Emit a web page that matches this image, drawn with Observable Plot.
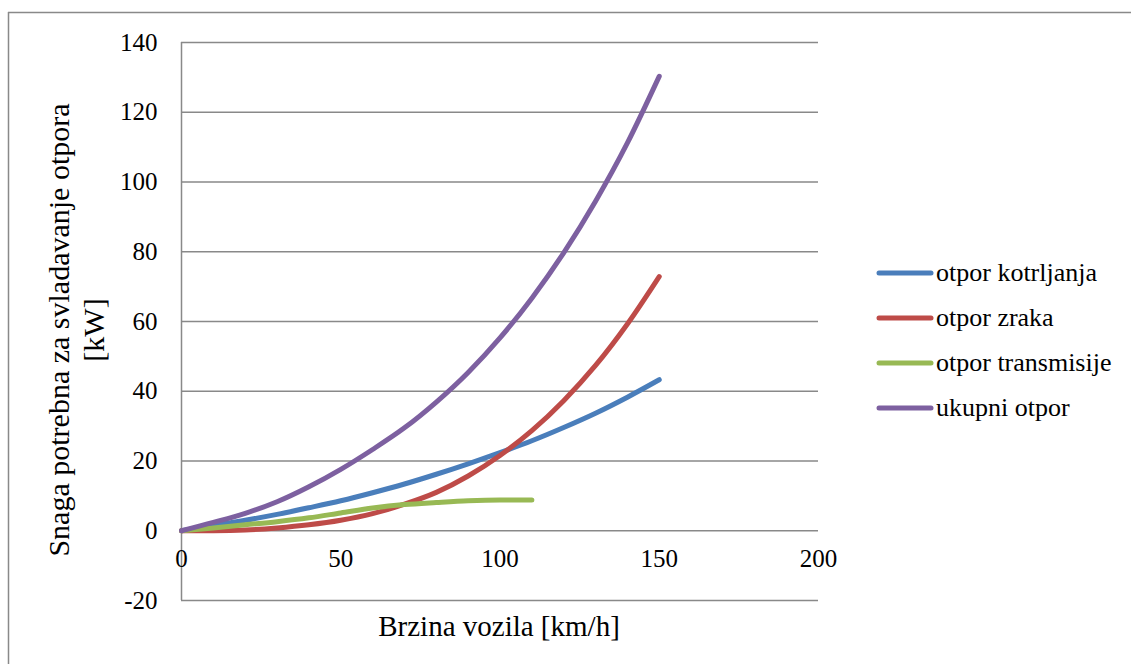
<!DOCTYPE html>
<html>
<head>
<meta charset="utf-8">
<script src="https://cdn.jsdelivr.net/npm/d3@7"></script>
<script src="https://cdn.jsdelivr.net/npm/@observablehq/plot@0.6"></script>
<style>
  html, body { margin: 0; padding: 0; background: #ffffff; }
  #chart { position: relative; width: 1131px; height: 664px; }
  #chart svg { display: block; }
  #chart svg text { font-family: "Liberation Serif", "Times New Roman", serif !important; }
</style>
</head>
<body>
<div id="chart"></div>
<script>
// ---- data ----
const speed = [0, 10, 20, 30, 40, 50, 60, 70, 80, 90, 100, 110, 120, 130, 140, 150];
const otporKotrljanja = [0, 1.5, 3.0, 4.7, 6.6, 8.6, 10.9, 13.4, 16.2, 19.2, 22.4, 25.8, 29.6, 33.7, 38.3, 43.3];
const otporZraka = [0, 0.02, 0.2, 0.8, 1.7, 3.0, 4.9, 7.6, 11.0, 15.7, 21.6, 28.7, 37.3, 47.4, 59.3, 72.9];
const speedTransmisija = [0, 10, 20, 30, 40, 50, 60, 70, 80, 90, 100, 110];
const otporTransmisije = [0, 0.8, 1.7, 2.6, 3.7, 5.1, 6.5, 7.5, 8.1, 8.6, 8.8, 8.8];
const ukupniOtpor = [0, 2.4, 5.0, 8.3, 12.6, 17.6, 23.3, 29.5, 36.9, 45.4, 55.3, 66.7, 79.7, 94.5, 111.2, 130.3];

const seriesNames = ["otpor kotrljanja", "otpor zraka", "otpor transmisije", "ukupni otpor"];
const seriesColors = ["#4A7EBB", "#BE4B48", "#98B954", "#7D60A0"];
const xTicks = [0, 50, 100, 150, 200];
const yTicks = [-20, 0, 20, 40, 60, 80, 100, 120, 140];
const xTitle = "Brzina vozila [km/h]";
const yTitleLines = ["Snaga potrebna za svladavanje otpora", "[kW]"];

// ---- tidy table ----
const rows = [];
speed.forEach((v, i) => rows.push({series: seriesNames[0], v, p: otporKotrljanja[i]}));
speed.forEach((v, i) => rows.push({series: seriesNames[1], v, p: otporZraka[i]}));
speedTransmisija.forEach((v, i) => rows.push({series: seriesNames[2], v, p: otporTransmisije[i]}));
speed.forEach((v, i) => rows.push({series: seriesNames[3], v, p: ukupniOtpor[i]}));

const FONT = "'Liberation Serif', 'Times New Roman', serif";
const GRID = "#898989";

const chart = Plot.plot({
  width: 1131,
  height: 664,
  marginLeft: 181,
  marginRight: 313,
  marginTop: 42,
  marginBottom: 64,
  style: {fontFamily: FONT, background: "#ffffff", color: "#000000", overflow: "visible"},
  x: {domain: [0, 200], axis: null},
  y: {domain: [-20, 140]},
  color: {domain: seriesNames, range: seriesColors},
  marks: [
    Plot.gridY(yTicks, {stroke: GRID, strokeOpacity: 1, strokeWidth: 1.5}),
    Plot.ruleX([0], {y1: -20, y2: 140, stroke: GRID, strokeWidth: 1.5}),
    Plot.axisY(yTicks, {tickSize: 0, tickPadding: 24, fontSize: 25, label: null, fill: "#000",
      fontFamily: FONT, tickFormat: d => String(d)}),
    Plot.text(xTicks, {x: d => d, y: 0, dy: 28, text: d => String(d), fontSize: 25, fill: "#000",
      fontFamily: FONT}),
    Plot.line(rows, {
      x: "v", y: "p", z: "series", stroke: "series",
      strokeWidth: 5, strokeLinecap: "round", strokeLinejoin: "round",
      curve: "monotone-x"
    })
  ]
});

document.getElementById("chart").appendChild(chart);

// ---- titles, frame and legend ----
const svg = d3.select(chart);

// outer chart frame (top and left edges visible in the reference)
svg.append("line").attr("x1", 8).attr("x2", 1131).attr("y1", 12.5).attr("y2", 12.5)
  .attr("stroke", GRID).attr("stroke-width", 1.5);
svg.append("line").attr("x1", 8.5).attr("x2", 8.5).attr("y1", 12).attr("y2", 664)
  .attr("stroke", GRID).attr("stroke-width", 1.5);

svg.append("text")
  .attr("x", 499).attr("y", 636)
  .attr("text-anchor", "middle")
  .style("font-family", FONT).attr("font-size", 29).attr("fill", "#000")
  .text(xTitle);

const yT = svg.append("text")
  .attr("transform", "translate(0,330) rotate(-90)")
  .attr("text-anchor", "middle")
  .style("font-family", FONT).attr("font-size", 30).attr("fill", "#000");
const yBase = [69, 104];
yTitleLines.forEach((t, i) => {
  yT.append("tspan").attr("x", 0).attr("y", yBase[i]).text(t);
});

const legendY = [273, 318, 363, 408];
const leg = svg.append("g");
seriesNames.forEach((name, i) => {
  leg.append("line")
    .attr("x1", 879).attr("x2", 931)
    .attr("y1", legendY[i]).attr("y2", legendY[i])
    .attr("stroke", seriesColors[i]).attr("stroke-width", 5)
    .attr("stroke-linecap", "round");
  leg.append("text")
    .attr("x", 936).attr("y", legendY[i]).attr("dy", "0.3em")
    .attr("text-anchor", "start")
    .style("font-family", FONT).attr("font-size", 26).attr("fill", "#000")
    .text(name);
});
</script>
</body>
</html>
